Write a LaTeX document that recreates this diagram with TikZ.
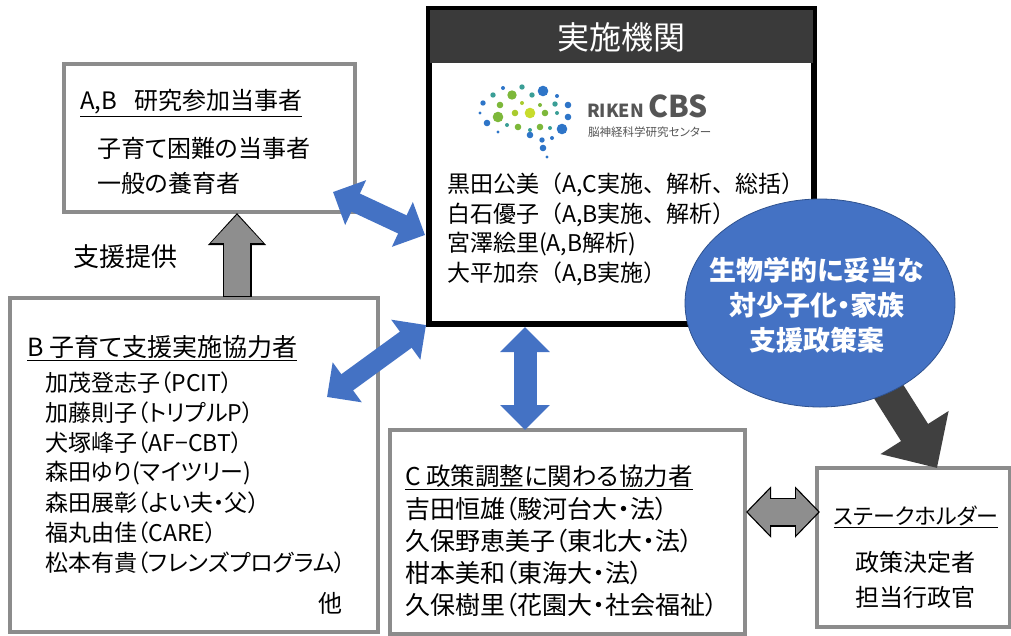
\documentclass[tikz,border=0pt]{standalone}
\usepackage{fontspec}
\setmainfont[RawFeature=+palt]{Noto Sans CJK JP}
\newfontfamily\fullwidth{Noto Sans CJK JP}
\usetikzlibrary{arrows.meta,calc,shapes.geometric}
\definecolor{cbsblue}{HTML}{4472C4}
\definecolor{cbsedge}{HTML}{2F528F}
\definecolor{boxgray}{HTML}{8C8C8C}
\definecolor{headgray}{HTML}{3A3A3A}
\definecolor{arrgray}{HTML}{8E8E8E}
\definecolor{arrdark}{HTML}{404040}
\definecolor{logob}{HTML}{2E75C8}
\definecolor{logot}{HTML}{3A9E96}
\definecolor{logog}{HTML}{7DB83A}
\definecolor{logoy}{HTML}{A9CB2E}
\definecolor{logol}{HTML}{C8DC2C}
\definecolor{logotext}{HTML}{555555}
\newcommand{\fsz}[1]{\fontsize{#1}{#1}\selectfont}

\tikzset{
  graybox/.style={draw=boxgray, line width=4pt, fill=white, inner sep=0pt},
  txt/.style={anchor=west, inner sep=0pt, font=\fsz{24}},
  bluearrow/.style={draw=cbsblue, line width=20pt,
    {Triangle[length=25pt,width=48pt]}-{Triangle[length=25pt,width=48pt]}},
}

\begin{document}
\begin{tikzpicture}[x=1pt, y=-1pt]
			\useasboundingbox (0,0) rectangle (1011,635);
			
			%%%%% BOXES %%%%%
			\node[graybox, minimum width=291pt, minimum height=148pt] (abox) at (209.5,138) {};
			\node[graybox, minimum width=368pt, minimum height=334pt] (bbox) at (194,465) {};
			\node[graybox, minimum width=355pt, minimum height=204pt] (cbox) at (567.5,532) {};
			\node[graybox, minimum width=193pt, minimum height=159pt] (sbox) at (913.5,547.5) {};
			
			\node[draw=black, line width=4pt, fill=white, inner sep=0pt,
			  minimum width=383pt, minimum height=313pt] (inst) at (621.5,166.5) {};
			\fill[headgray] (inst.north west) rectangle ($(inst.north east)+(0,55)$);
			\draw[line width=4pt] (inst.north west) rectangle (inst.south east);
			\node[white, inner sep=0pt, font=\fsz{32}] (insthead) at (621.5,37) {実施機関};
			
			%%%%% LOGO %%%%%
			\foreach \x/\y/\r/\c in {503/88/2/logob, 522/87/2.7/logot, 543/91/5.3/logob,
			  493/95/2.7/logot, 512/95/4.7/logog, 532/95/2.7/logot, 557/96/2/logob,
			  483/103/2.7/logob, 500/105/3.3/logog, 522/103/2/logoy, 540/105/2/logog,
			  555/104/2.7/logot, 568/105/3.3/logob,
			  480/113/1.7/logob, 498/117/5.3/logog, 515/113/3.3/logoy, 530/113/5.3/logol,
			  545/113/3.3/logog, 557/113/2/logot, 568/117/3.3/logob,
			  487/123/3.3/logob, 507/125/2/logot, 518/127/3.3/logog, 530/130/2/logot,
			  540/127/3.3/logog, 550/128/2/logot, 562/129/5.3/logob,
			  498/132/1.7/logob, 530/135/3.3/logob, 542/140/2.7/logob, 552/138/2/logob,
			  543/148/3.3/logob, 547/157/1.7/logob}
			  \fill[\c] (\x,\y) circle (\r pt);
			\node[anchor=base west, inner sep=0pt, text=logotext, font=\bfseries] (riken) at (587,117)
			  {{\fsz{18}RIKEN}\hspace{4pt}{\fsz{30}CBS}};
			\node[anchor=west, inner sep=0pt, text=logotext, font=\fsz{11.5}] (rikensub) at (588,132)
			  {脳神経科学研究センター};
			
			%%%%% TEXTS %%%%%
			\foreach \t [count=\i] in {{黒田公美（A,C実施、解析、総括）}, {白石優子（A,B実施、解析）},
			  {宮澤絵里(A,B解析)}, {大平加奈（A,B実施）}}
			  \node[txt, font=\fullwidth\fsz{23}] (inst\i) at (447,155.5+29.5*\i) {\t};
			
			\node[txt] (atitle) at (80,103) {\underline{A,B\hspace{0.7em}研究参加当事者}};
			\node[txt] (a1) at (97,148) {子育て困難の当事者};
			\node[txt] (a2) at (97,183) {一般の養育者};
			
			\node[txt, font=\fsz{26}] (support) at (73,257) {支援提供};
			
			\node[txt, font=\fsz{25}] (btitle) at (27,348) {\underline{B 子育て支援実施協力者}};
			\foreach \t [count=\i] in {加茂登志子（PCIT）, 加藤則子（トリプルP）, 犬塚峰子（AF−CBT）,
			  森田ゆり(マイツリー), 森田展彰（よい夫・父）, 福丸由佳（CARE）, 松本有貴（フレンズプログラム）}
			  \node[txt, font=\fsz{23}] (b\i) at (45,353+30*\i) {\t};
			\node[txt] (bother) at (318,603) {他};
			
			\node[txt, font=\fsz{24.5}] (ctitle) at (405,477) {\underline{C 政策調整に関わる協力者}};
			\foreach \t [count=\i] in {吉田恒雄（駿河台大・法）, 久保野恵美子（東北大・法）,
			  柑本美和（東海大・法）, 久保樹里（花園大・社会福祉）}
			  \node[txt, font=\fsz{25}] (c\i) at (405,476.5+32*\i) {\t};
			
			\node[inner sep=0pt, font=\fsz{22}] (stitle) at (916,517) {\underline{ステークホルダー}};
			\node[inner sep=0pt, font=\fsz{24}] (s1) at (915,562) {政策決定者};
			\node[inner sep=0pt, font=\fsz{24}] (s2) at (915,597) {担当行政官};
			
			%%%%% ARROWS %%%%%
			\coordinate (aend) at (333,192);
			\coordinate (iend1) at (425,235);
			\coordinate (bend) at (327,397);
			\coordinate (iend2) at (426,325);
			\coordinate (iend3) at (525,327);
			\coordinate (cend) at (525,430);
			\coordinate (btop) at (237,297);
			\coordinate (abot) at (237,213);
			\coordinate (cright) at (746,512);
			\coordinate (sleft) at (820,512);
			\coordinate (ptail) at (875,370);
			\coordinate (stop) at (937,468);
			
			\draw[bluearrow] (aend) -- (iend1);
			\draw[bluearrow] (bend) -- (iend2);
			\draw[bluearrow, line width=23pt] (iend3) -- (cend);
			
			\draw[line width=29pt, -{Triangle[length=32pt,width=56pt]}] (btop) -- (abot);
			\draw[arrgray, line width=26pt, -{Triangle[length=28pt,width=50pt]},
			  shorten >=1.8pt, shorten <=1.5pt] (btop) -- (abot);
			
			\draw[line width=29pt, {Triangle[length=25pt,width=50pt]}-{Triangle[length=25pt,width=50pt]}] (cright) -- (sleft);
			\draw[arrgray, line width=26pt, {Triangle[length=22pt,width=44pt]}-{Triangle[length=22pt,width=44pt]},
			  shorten >=1.8pt, shorten <=1.8pt] (cright) -- (sleft);
			
			\draw[arrdark, line width=32pt, -{Triangle[length=42pt,width=78pt]}] (ptail) -- (stop);
			
			%%%%% POLICY %%%%%
			\node[ellipse, draw=cbsedge, line width=0.8pt, fill=cbsblue, inner sep=0pt,
			  minimum width=270pt, minimum height=208pt] (policy) at (820,303) {};
			\node[white, align=center, inner sep=0pt, font=\bfseries\fontsize{27}{35}\selectfont] (policytext) at (817,305)
			  {生物学的に妥当な\\対少子化・家族\\支援政策案};
			
\end{tikzpicture}
\end{document}
